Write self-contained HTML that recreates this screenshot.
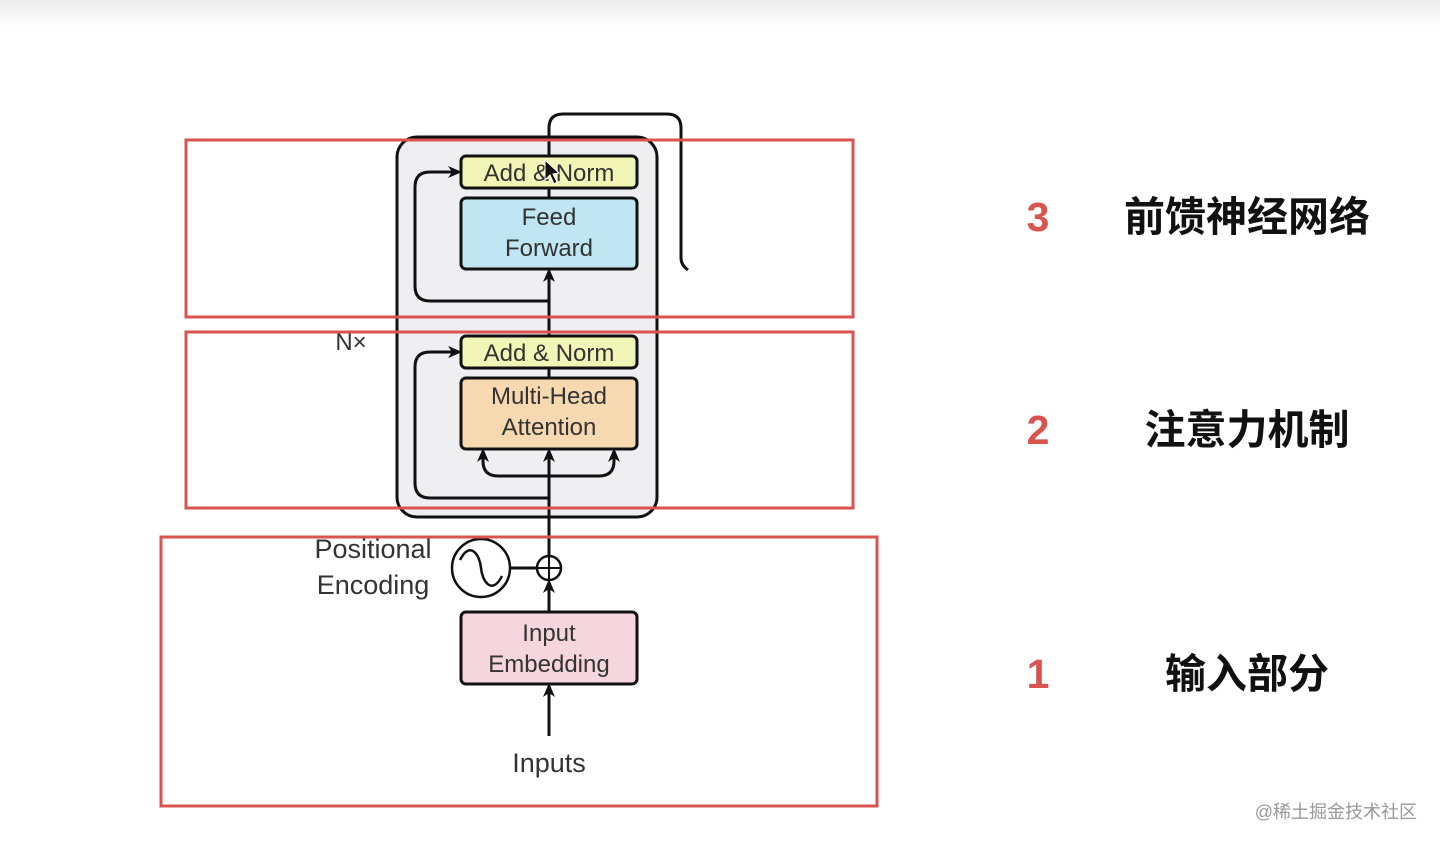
<!DOCTYPE html>
<html><head><meta charset="utf-8"><style>
html,body{margin:0;padding:0;background:#fff;}
svg{display:block;}
</style></head><body>
<svg width="1440" height="846" viewBox="0 0 1440 846" xmlns="http://www.w3.org/2000/svg" font-family="Liberation Sans, sans-serif">
<defs>
<linearGradient id="tg" x1="0" y1="0" x2="0" y2="1"><stop offset="0" stop-color="#ececec"/><stop offset="1" stop-color="#ffffff"/></linearGradient>
<marker id="ah" markerWidth="14" markerHeight="14" refX="11" refY="7" orient="auto" markerUnits="userSpaceOnUse"><path d="M0,1 L14,7 L0,13 L4,7 Z" fill="#111"/></marker>
</defs>
<rect x="0" y="0" width="1440" height="28" fill="url(#tg)"/>
<rect x="397" y="137" width="260" height="380" rx="20" fill="#efeff2" stroke="#111" stroke-width="3"/>
<g fill="none" stroke="#111" stroke-width="3">
<path d="M549,301 H430 Q415,301 415,286 V187 Q415,172 430,172 H459" marker-end="url(#ah)"/>
<path d="M549,498 H430 Q415,498 415,483 V367 Q415,352 430,352 H459" marker-end="url(#ah)"/>
<path d="M549,476 H498 Q483,476 483,461 V451" marker-end="url(#ah)"/>
<path d="M549,476 H599 Q614,476 614,461 V451" marker-end="url(#ah)"/>
<path d="M549,540 V451" marker-end="url(#ah)"/>
<path d="M549,336 V271" marker-end="url(#ah)"/>
<path d="M549,198 V188"/>
<path d="M549,378 V368"/>
<path d="M549,156 V128 Q549,114 563,114 H667 Q681,114 681,128 V258 Q681,265 688,270"/>
<path d="M549,556 V517"/>
<path d="M549,612 V582" marker-end="url(#ah)"/>
<path d="M549,736 V686" marker-end="url(#ah)"/>
<path d="M510,568 H537"/>
</g>
<rect x="461" y="156" width="176" height="32" rx="5" fill="#f1f5b5" stroke="#111" stroke-width="3"/>
<rect x="461" y="198" width="176" height="71" rx="5" fill="#bfe6f2" stroke="#111" stroke-width="3"/>
<rect x="461" y="336" width="176" height="32" rx="5" fill="#f1f5b5" stroke="#111" stroke-width="3"/>
<rect x="461" y="378" width="176" height="71" rx="5" fill="#f6d9b0" stroke="#111" stroke-width="3"/>
<rect x="461" y="612" width="176" height="72" rx="5" fill="#f5d5de" stroke="#111" stroke-width="3"/>
<circle cx="481" cy="568" r="29" fill="#fff" stroke="#111" stroke-width="2.5"/>
<path d="M460,560 C470,540 480,555 481,568 C482,581 492,596 502,576" fill="none" stroke="#111" stroke-width="2.5"/>
<circle cx="549" cy="568" r="12" fill="#fff" stroke="#111" stroke-width="2.5"/>
<path d="M549,557 V579 M538,568 H560" stroke="#111" stroke-width="2"/>
<g fill="#333" font-size="24" text-anchor="middle">
<text x="549" y="181">Add &amp; Norm</text>
<text x="549" y="225">Feed</text>
<text x="549" y="256">Forward</text>
<text x="549" y="361">Add &amp; Norm</text>
<text x="549" y="404">Multi-Head</text>
<text x="549" y="435">Attention</text>
<text x="549" y="641">Input</text>
<text x="549" y="672">Embedding</text>
<text x="549" y="772" font-size="27">Inputs</text>
<text x="373" y="558" font-size="27">Positional</text>
<text x="373" y="594" font-size="27">Encoding</text>
<text x="351" y="350" font-size="24">N×</text>
</g>
<path d="M545,160 L545,180 L550,175 L554,184 L557,182 L553,174 L559,173 Z" fill="#111" stroke="#fff" stroke-width="1"/>
<g fill="none" stroke="#d9534f" stroke-width="3">
<rect x="186" y="140" width="667" height="177"/>
<rect x="186" y="332" width="667" height="176"/>
<rect x="161" y="537" width="716" height="269"/>
</g>
<g font-weight="bold" font-size="41" font-family="Liberation Sans, Noto Sans CJK SC, sans-serif">
<text x="1038" y="231" fill="#d9534f" text-anchor="middle">3</text>
<text x="1038" y="444" fill="#d9534f" text-anchor="middle">2</text>
<text x="1038" y="688" fill="#d9534f" text-anchor="middle">1</text>
<text x="1247" y="231" fill="#111" text-anchor="middle">前馈神经网络</text>
<text x="1247" y="444" fill="#111" text-anchor="middle">注意力机制</text>
<text x="1247" y="688" fill="#111" text-anchor="middle">输入部分</text>
</g>
<text x="1417" y="818" fill="#999" font-size="18" text-anchor="end" font-family="Liberation Sans, Noto Sans CJK SC, sans-serif">@稀土掘金技术社区</text>
</svg>
</body></html>
